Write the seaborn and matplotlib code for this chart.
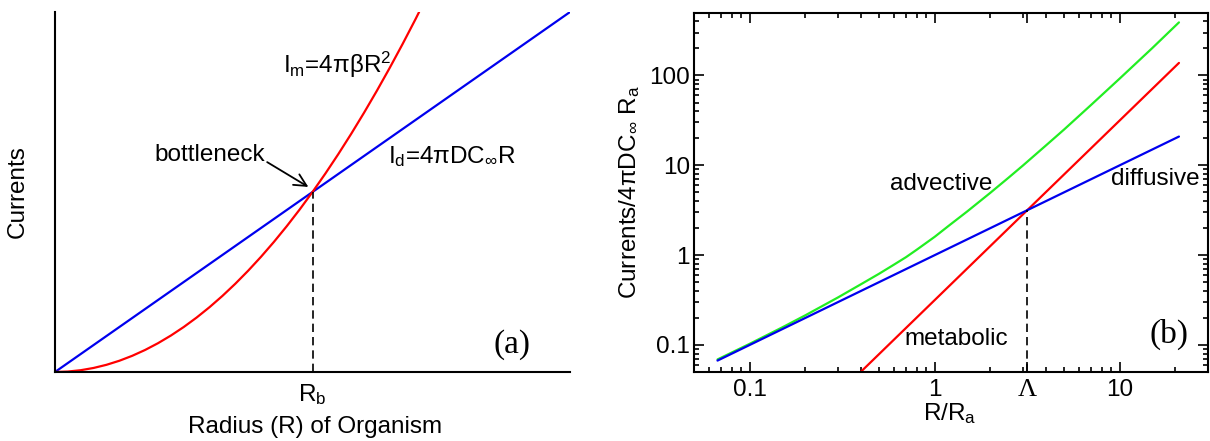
import numpy as np
import pandas as pd
import matplotlib
matplotlib.use("Agg")
import matplotlib.pyplot as plt
import seaborn as sns

# ---------------- data ----------------
# Panel (a): linear axes, arbitrary units
a_diff_x = [0.0, 1.0]
a_diff_y = [0.0, 1.0]
a_metab_x = [0.0, 0.025, 0.05, 0.075, 0.1, 0.125, 0.15, 0.175, 0.2, 0.225, 0.25,
             0.275, 0.3, 0.325, 0.35, 0.375, 0.4, 0.425, 0.45, 0.475, 0.5,
             0.525, 0.55, 0.575, 0.6, 0.625, 0.65, 0.675, 0.7, 0.707]
a_metab_y = [0.0, 0.00125, 0.005, 0.01125, 0.02, 0.03125, 0.045, 0.06125, 0.08,
             0.10125, 0.125, 0.15125, 0.18, 0.21125, 0.245, 0.28125, 0.32,
             0.36125, 0.405, 0.45125, 0.5, 0.55125, 0.605, 0.66125, 0.72,
             0.78125, 0.845, 0.91125, 0.98, 1.0]
a_Rb = 0.5
a_Rb_y = 0.5

# Panel (b): log-log
b_diff_x = [0.067, 0.3, 1.0, 3.162, 10.0, 20.9]
b_diff_y = [0.067, 0.3, 1.0, 3.162, 10.0, 20.9]
b_metab_x = [0.35, 1.0, 3.162, 10.0, 20.9]
b_metab_y = [0.0387, 0.316, 3.162, 31.6, 138.0]
b_adv_x = [0.067, 0.1, 0.15, 0.2, 0.3, 0.4, 0.5, 0.6, 0.7, 0.8, 1.0, 1.2, 1.5,
           2.0, 2.5, 3.0, 4.0, 5.0, 7.0, 10.0, 15.0, 20.9]
b_adv_y = [0.069, 0.103, 0.157, 0.214, 0.338, 0.475, 0.62, 0.78, 0.95, 1.15,
           1.6, 2.15, 3.07, 4.95, 7.25, 9.96, 16.7, 25.0, 47.0, 92.5, 202.0, 390.0]
b_Lambda = 3.162
b_xticks = [0.1, 1.0, b_Lambda, 10.0]
b_xticklabels = ["0.1", "1", "Λ", "10"]
b_yticks = [0.1, 1, 10, 100]
b_yticklabels = ["0.1", "1", "10", "100"]

# ---------------- style ----------------
sns.set_theme(style="ticks")
plt.rcParams["font.family"] = ["Liberation Sans", "DejaVu Sans"]
plt.rcParams["mathtext.fontset"] = "custom"
plt.rcParams["mathtext.rm"] = "Liberation Sans"
plt.rcParams["mathtext.it"] = "Liberation Sans"
plt.rcParams["mathtext.bf"] = "Liberation Sans:bold"
for k in ["text.color", "axes.labelcolor", "xtick.color", "ytick.color",
          "axes.edgecolor"]:
    plt.rcParams[k] = "black"
plt.rcParams["axes.linewidth"] = 1.5

RED = "#ff0000"
BLUE = "#0000ee"
GREEN = "#22ee22"
FS = 17.5

fig = plt.figure(figsize=(12.1, 4.41), dpi=100)
axa = fig.add_axes([55 / 1210, 69 / 441, 515 / 1210, 360 / 441])
axb = fig.add_axes([694 / 1210, 69 / 441, 514 / 1210, 359.3 / 441])

# ---------------- panel (a) ----------------
da = pd.DataFrame({"x": a_diff_x, "y": a_diff_y})
ma = pd.DataFrame({"x": a_metab_x, "y": a_metab_y})
sns.lineplot(data=da, x="x", y="y", ax=axa, color=BLUE, lw=1.6,
             estimator=None, sort=False)
sns.lineplot(data=ma, x="x", y="y", ax=axa, color=RED, lw=1.6,
             estimator=None, sort=False)
axa.plot([a_Rb, a_Rb], [0, a_Rb_y], color="black", lw=1.2, ls=(0, (5, 3)))
axa.set_xlim(0, 1)
axa.set_ylim(0, 1)
axa.spines["top"].set_visible(False)
axa.spines["right"].set_visible(False)
axa.set_xticks([a_Rb])
axa.set_xticklabels([r"R$_\mathregular{b}$"], fontsize=FS)
axa.set_yticks([])
axa.tick_params(axis="x", length=0, pad=7)
axa.set_xlabel("Radius (R) of Organism", fontsize=FS, va="center")
axa.xaxis.set_label_coords(0.505, -0.153)
axa.set_ylabel("Currents", fontsize=FS, va="center")
axa.yaxis.set_label_coords(-0.072, 0.5)
axa.text(0.5485, 0.853, r"I$_\mathregular{m}$=4πβR$^\mathregular{2}$", fontsize=FS,
         ha="center", va="center")
axa.text(0.77, 0.599, r"I$_\mathregular{d}$=4πDC$_\mathregular{∞}$R", fontsize=FS,
         ha="center", va="center")
axa.text(0.301, 0.603, "bottleneck", fontsize=FS, ha="center", va="center")
axa.annotate("", xy=(0.492, 0.514), xytext=(0.412, 0.583),
             arrowprops=dict(arrowstyle="->", color="black", lw=1.3,
                             shrinkA=0, shrinkB=0, mutation_scale=22))
axa.text(0.887, 0.075, "(a)", fontsize=24, family="Liberation Serif",
         ha="center", va="center")

# ---------------- panel (b) ----------------
db = pd.DataFrame({"x": b_diff_x, "y": b_diff_y})
mb = pd.DataFrame({"x": b_metab_x, "y": b_metab_y})
ab = pd.DataFrame({"x": b_adv_x, "y": b_adv_y})
axb.set_xscale("log")
axb.set_yscale("log")
sns.lineplot(data=ab, x="x", y="y", ax=axb, color=GREEN, lw=1.6,
             estimator=None, sort=False)
sns.lineplot(data=mb, x="x", y="y", ax=axb, color=RED, lw=1.6,
             estimator=None, sort=False)
sns.lineplot(data=db, x="x", y="y", ax=axb, color=BLUE, lw=1.6,
             estimator=None, sort=False)
axb.plot([b_Lambda, b_Lambda], [0.05, b_Lambda], color="black", lw=1.2,
         ls=(0, (5, 3)))
axb.set_xlim(0.05, 30)
axb.set_ylim(0.05, 500)
axb.set_xticks(b_xticks)
axb.set_xticklabels(b_xticklabels, fontsize=FS)
for lab in axb.get_xticklabels():
    if lab.get_text() == "Λ":
        lab.set_fontfamily("Liberation Serif")
        lab.set_fontsize(19)
axb.set_yticks(b_yticks)
axb.set_yticklabels(b_yticklabels, fontsize=FS)
axb.xaxis.set_minor_locator(matplotlib.ticker.LogLocator(base=10, subs=np.arange(2, 10)))
axb.yaxis.set_minor_locator(matplotlib.ticker.LogLocator(base=10, subs=np.arange(2, 10)))
axb.xaxis.set_minor_formatter(matplotlib.ticker.NullFormatter())
axb.yaxis.set_minor_formatter(matplotlib.ticker.NullFormatter())
axb.tick_params(which="both", direction="in", top=True, right=True,
                width=1.2, color="black")
axb.tick_params(which="major", length=7.5)
axb.tick_params(which="minor", length=3.8)
axb.tick_params(axis="x", which="major", pad=5)
axb.tick_params(axis="y", which="major", pad=3)
for s in axb.spines.values():
    s.set_visible(True)
    s.set_linewidth(1.5)
axb.set_xlabel(r"R/R$_\mathregular{a}$", fontsize=FS, va="center")
axb.xaxis.set_label_coords(0.498, -0.117)
axb.set_ylabel(r"Currents/4πDC$_\mathregular{∞}$ R$_\mathregular{a}$", fontsize=FS,
               va="center")
axb.yaxis.set_label_coords(-0.126, 0.5)
axb.text(1.09, 6.2, "advective", fontsize=FS, ha="center", va="center")
axb.text(15.5, 7.06, "diffusive", fontsize=FS, ha="center", va="center")
axb.text(1.31, 0.117, "metabolic", fontsize=FS, ha="center", va="center")
axb.text(18.4, 0.132, "(b)", fontsize=24, family="Liberation Serif",
         ha="center", va="center")

fig.savefig("out.png", dpi=100)
